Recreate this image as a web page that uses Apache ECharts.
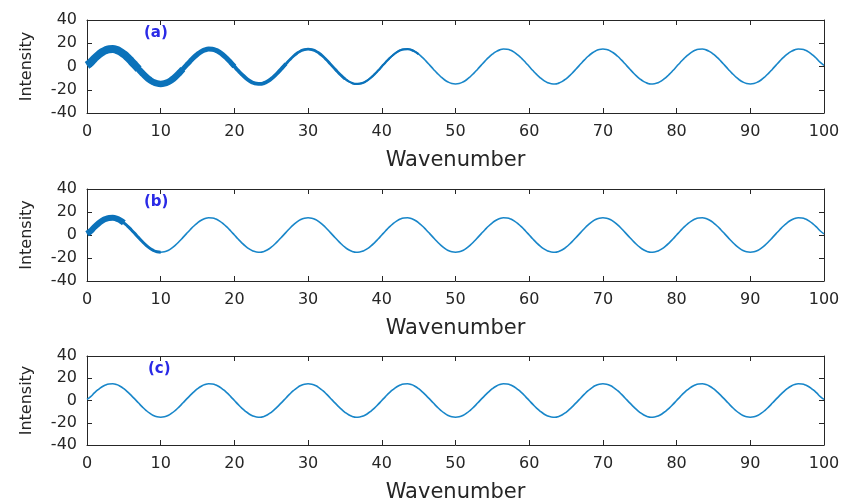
<!DOCTYPE html>
<html>
<head>
<meta charset="utf-8">
<script src="https://cdn.jsdelivr.net/npm/echarts@6/dist/echarts.min.js"></script>
<style>
  html, body { margin: 0; padding: 0; background: #fff; }
  #chart { width: 844px; height: 504px; }
</style>
</head>
<body>
<div id="chart"></div>
<script>
// wavenumber runs 0..100 in steps of 0.5, one intensity value per step
const wavenumberStep = 0.5;
const intensity = [
  1, 3.5, 6.8, 9.7, 12.1, 13.9, 14.8, 15.0, 14.3, 12.8, 10.6, 7.8, 4.6, 1.2, -2.3, -5.7, -8.8, -11.4, -13.4, -14.6,
  -15, -14.6, -13.4, -11.4, -8.8, -5.7, -2.3, 1.2, 4.6, 7.8, 10.6, 12.8, 14.3, 15.0, 14.8, 13.9, 12.1, 9.7, 6.8, 3.5,
  0, -3.5, -6.8, -9.7, -12.1, -13.9, -14.8, -15.0, -14.3, -12.8, -10.6, -7.8, -4.6, -1.2, 2.3, 5.7, 8.8, 11.4, 13.4, 14.6,
  15, 14.6, 13.4, 11.4, 8.8, 5.7, 2.3, -1.2, -4.6, -7.8, -10.6, -12.8, -14.3, -15.0, -14.8, -13.9, -12.1, -9.7, -6.8, -3.5,
  0, 3.5, 6.8, 9.7, 12.1, 13.9, 14.8, 15.0, 14.3, 12.8, 10.6, 7.8, 4.6, 1.2, -2.3, -5.7, -8.8, -11.4, -13.4, -14.6,
  -15, -14.6, -13.4, -11.4, -8.8, -5.7, -2.3, 1.2, 4.6, 7.8, 10.6, 12.8, 14.3, 15.0, 14.8, 13.9, 12.1, 9.7, 6.8, 3.5,
  0, -3.5, -6.8, -9.7, -12.1, -13.9, -14.8, -15.0, -14.3, -12.8, -10.6, -7.8, -4.6, -1.2, 2.3, 5.7, 8.8, 11.4, 13.4, 14.6,
  15, 14.6, 13.4, 11.4, 8.8, 5.7, 2.3, -1.2, -4.6, -7.8, -10.6, -12.8, -14.3, -15.0, -14.8, -13.9, -12.1, -9.7, -6.8, -3.5,
  0, 3.5, 6.8, 9.7, 12.1, 13.9, 14.8, 15.0, 14.3, 12.8, 10.6, 7.8, 4.6, 1.2, -2.3, -5.7, -8.8, -11.4, -13.4, -14.6,
  -15, -14.6, -13.4, -11.4, -8.8, -5.7, -2.3, 1.2, 4.6, 7.8, 10.6, 12.8, 14.3, 15.0, 14.8, 13.9, 12.1, 9.7, 6.8, 3.5,
  1
];
const panelLabels = ['(a)', '(b)', '(c)'];
const xTicks = [0, 10, 20, 30, 40, 50, 60, 70, 80, 90, 100];
const yTicks = [-40, -20, 0, 20, 40];

const points = intensity.map((v, i) => [i * wavenumberStep, v]);

// noisy stretches drawn as a thicker line: [from, to, width]
const noiseBands = [
  [[0, 7, 8], [6.5, 13, 6.5], [12.5, 20, 5], [19.5, 27, 3.8], [26.5, 35, 2.8], [34.5, 45, 2.2]],
  [[0, 5, 6], [4.5, 10, 3]],
  []
];

const font = 'DejaVu Sans';
const axisColor = '#262626';
const lineColor = '#1886c9';
const grids = [
  { left: 87, right: 20, top: 20, height: 93 },
  { left: 87, right: 20, top: 189, height: 92 },
  { left: 87, right: 20, top: 356, height: 92 }
];

const xAxis = [], yAxis = [], series = [], graphic = [];
grids.forEach((g, i) => {
  xAxis.push({
    type: 'value', gridIndex: i, min: 0, max: 100, interval: 10, position: 'bottom',
    name: 'Wavenumber', nameLocation: 'middle', nameGap: 37,
    nameTextStyle: { fontFamily: font, fontSize: 21, color: '#262626' },
    axisLine: { show: true, onZero: false, lineStyle: { color: axisColor } },
    axisTick: { inside: true, length: 5, lineStyle: { color: axisColor } },
    axisLabel: { fontFamily: font, fontSize: 16, color: '#262626', margin: 11,
      formatter: v => xTicks.includes(v) ? String(v) : '' },
    splitLine: { show: false }
  });
  xAxis.push({
    type: 'value', gridIndex: i, min: 0, max: 100, interval: 10, position: 'top',
    axisLine: { show: true, onZero: false, lineStyle: { color: axisColor } },
    axisTick: { inside: true, length: 5, lineStyle: { color: axisColor } },
    axisLabel: { show: false }, splitLine: { show: false }
  });
  yAxis.push({
    type: 'value', gridIndex: i, min: -40, max: 40, interval: 20, position: 'left',
    name: 'Intensity', nameLocation: 'middle', nameGap: 52,
    nameTextStyle: { fontFamily: font, fontSize: 16, color: '#262626' },
    axisLine: { show: true, onZero: false, lineStyle: { color: axisColor } },
    axisTick: { inside: true, length: 5, lineStyle: { color: axisColor } },
    axisLabel: { fontFamily: font, fontSize: 16, color: '#262626', margin: 10,
      formatter: v => yTicks.includes(v) ? String(v) : '' },
    splitLine: { show: false }
  });
  yAxis.push({
    type: 'value', gridIndex: i, min: -40, max: 40, interval: 20, position: 'right',
    axisLine: { show: true, onZero: false, lineStyle: { color: axisColor } },
    axisTick: { inside: true, length: 5, lineStyle: { color: axisColor } },
    axisLabel: { show: false }, splitLine: { show: false }
  });

  series.push({
    type: 'line', xAxisIndex: i * 2, yAxisIndex: i * 2, data: points,
    smooth: true, showSymbol: false, silent: true,
    lineStyle: { color: lineColor, width: 1.6 }
  });
  noiseBands[i].forEach(([from, to, w]) => {
    series.push({
      type: 'line', xAxisIndex: i * 2, yAxisIndex: i * 2,
      data: points.filter(p => p[0] >= from && p[0] <= to),
      smooth: true, showSymbol: false, silent: true,
      lineStyle: { color: '#0b72ba', width: w, cap: 'butt', join: 'round' }
    });
  });

  graphic.push({
    type: 'text', left: 144 + (i === 2 ? 4 : 0), top: g.top + 6,
    style: { text: panelLabels[i], fontFamily: font, fontSize: 15, fontWeight: 'bold', fill: '#2a2ae6' }
  });
});

const chart = echarts.init(document.getElementById('chart'));
chart.setOption({
  animation: false,
  backgroundColor: '#fff',
  grid: grids,
  xAxis: xAxis,
  yAxis: yAxis,
  series: series,
  graphic: graphic
});
</script>
</body>
</html>
